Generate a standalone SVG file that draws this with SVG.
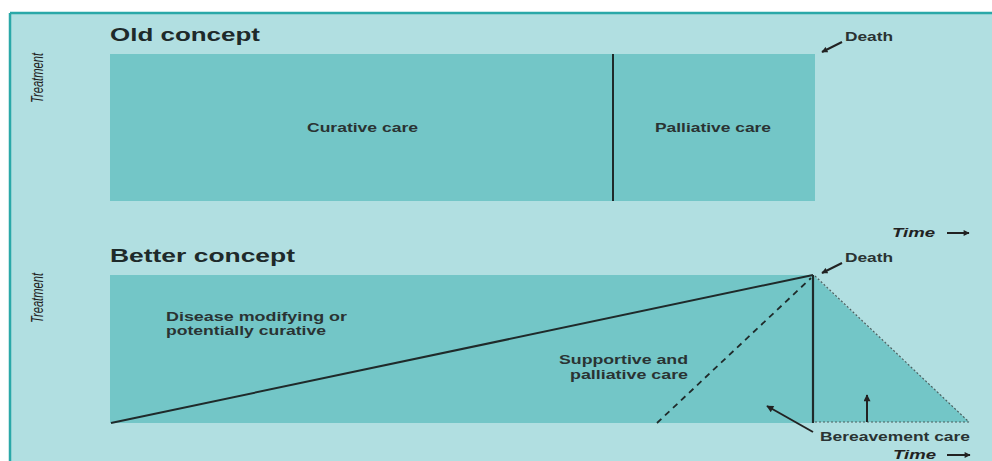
<svg xmlns="http://www.w3.org/2000/svg" width="992" height="461" viewBox="0 0 992 461">
<defs>
<marker id="ah" viewBox="0 0 10 10" refX="9" refY="5" markerWidth="8" markerHeight="6" orient="auto" markerUnits="userSpaceOnUse">
<path d="M0,0 L10,5 L0,10 z" fill="#222"/>
</marker>
<marker id="ahb" viewBox="0 0 10 10" refX="9" refY="5" markerWidth="9" markerHeight="7" orient="auto" markerUnits="userSpaceOnUse">
<path d="M0,0 L10,5 L0,10 z" fill="#222"/>
</marker>
</defs>
<style>
.bg{fill:#b1dfe1}
.box{fill:#73c6c7}
.title{font-family:"Liberation Sans",Arial,sans-serif;font-weight:bold;font-size:19px;fill:#1e2a2a}
.lbl{font-family:"Liberation Sans",Arial,sans-serif;font-weight:bold;font-size:13px;fill:#2a3333}
.ax{font-family:"Liberation Sans",Arial,sans-serif;font-style:italic;font-size:13px;fill:#222}
.tr{font-family:"Liberation Sans",Arial,sans-serif;font-style:italic;font-size:16px;fill:#222}
.ln{stroke:#1f2a2a;fill:none}
.arr{stroke:#222;stroke-width:2;fill:none}
</style>
<rect x="0" y="0" width="992" height="461" fill="#ffffff"/>
<rect class="bg" x="10" y="13" width="982" height="448"/>
<line x1="10" y1="13" x2="992" y2="13" stroke="#2aa8a8" stroke-width="2.5"/>
<line x1="10" y1="13" x2="10" y2="461" stroke="#2aa8a8" stroke-width="2.5"/>

<g id="old-concept">
<text class="title" x="110" y="41" textLength="150" lengthAdjust="spacingAndGlyphs">Old concept</text>
<text class="tr" transform="translate(43,78) rotate(-90)" text-anchor="middle" textLength="50" lengthAdjust="spacingAndGlyphs">Treatment</text>
<rect class="box" x="110" y="54" width="705" height="147"/>
</g>
<g id="curative-care">
<text class="lbl" x="307" y="132" textLength="111" lengthAdjust="spacingAndGlyphs">Curative care</text>
</g>
<g id="palliative-care">
<text class="lbl" x="655" y="132" textLength="116" lengthAdjust="spacingAndGlyphs">Palliative care</text>
</g>
<g id="death-old">
<text class="lbl" x="845" y="41" textLength="48" lengthAdjust="spacingAndGlyphs">Death</text>
</g>
<g id="time-old">
<text class="ax" x="892" y="237" font-weight="bold" textLength="43" lengthAdjust="spacingAndGlyphs">Time</text>
</g>

<g id="better-concept">
<text class="title" x="110" y="262" textLength="185" lengthAdjust="spacingAndGlyphs">Better concept</text>
<text class="tr" transform="translate(43,298) rotate(-90)" text-anchor="middle" textLength="50" lengthAdjust="spacingAndGlyphs">Treatment</text>
<rect class="box" x="110" y="275" width="703" height="148"/>
<polygon class="box" points="813,275 969,422 813,422"/>
</g>
<g id="disease-modifying">
<text class="lbl" x="166" y="321" textLength="181" lengthAdjust="spacingAndGlyphs">Disease modifying or</text>
<text class="lbl" x="166" y="335" textLength="160" lengthAdjust="spacingAndGlyphs">potentially curative</text>
</g>
<g id="supportive-palliative">
<text class="lbl" x="559" y="364" textLength="129" lengthAdjust="spacingAndGlyphs">Supportive and</text>
<text class="lbl" x="570" y="379" textLength="118" lengthAdjust="spacingAndGlyphs">palliative care</text>
</g>
<g id="death-better">
<text class="lbl" x="845" y="262" textLength="48" lengthAdjust="spacingAndGlyphs">Death</text>
</g>
<g id="bereavement-care">
<text class="lbl" x="820" y="441" textLength="150" lengthAdjust="spacingAndGlyphs">Bereavement care</text>
</g>
<g id="time-better">
<text class="ax" x="893" y="459" font-weight="bold" textLength="43" lengthAdjust="spacingAndGlyphs">Time</text>
</g>

<g id="connectors">
<line class="ln" x1="613" y1="54" x2="613" y2="201" stroke-width="2"/>
<line class="arr" x1="842" y1="42" x2="822" y2="52" marker-end="url(#ah)"/>
<line class="arr" x1="947" y1="233" x2="969" y2="233" marker-end="url(#ah)"/>
<line class="ln" x1="111" y1="423" x2="813" y2="275" stroke-width="2"/>
<line class="ln" x1="657" y1="423" x2="811" y2="278" stroke-width="1.8" stroke-dasharray="6,5" stroke="#3d5555"/>
<line class="ln" x1="813" y1="275" x2="813" y2="423" stroke-width="2.2"/>
<line x1="815" y1="276" x2="969" y2="422" stroke="#4a5f5f" stroke-width="1.2" stroke-dasharray="2,2"/>
<line x1="815" y1="422" x2="969" y2="422" stroke="#4a5f5f" stroke-width="1.2" stroke-dasharray="2,2"/>
<line class="arr" x1="842" y1="263" x2="822" y2="273" marker-end="url(#ah)"/>
<line class="arr" x1="813" y1="432" x2="767" y2="406" marker-end="url(#ahb)"/>
<line class="arr" x1="867" y1="422" x2="867" y2="395" marker-end="url(#ahb)"/>
<line class="arr" x1="947" y1="455" x2="970" y2="455" marker-end="url(#ah)"/>
</g>
</svg>
